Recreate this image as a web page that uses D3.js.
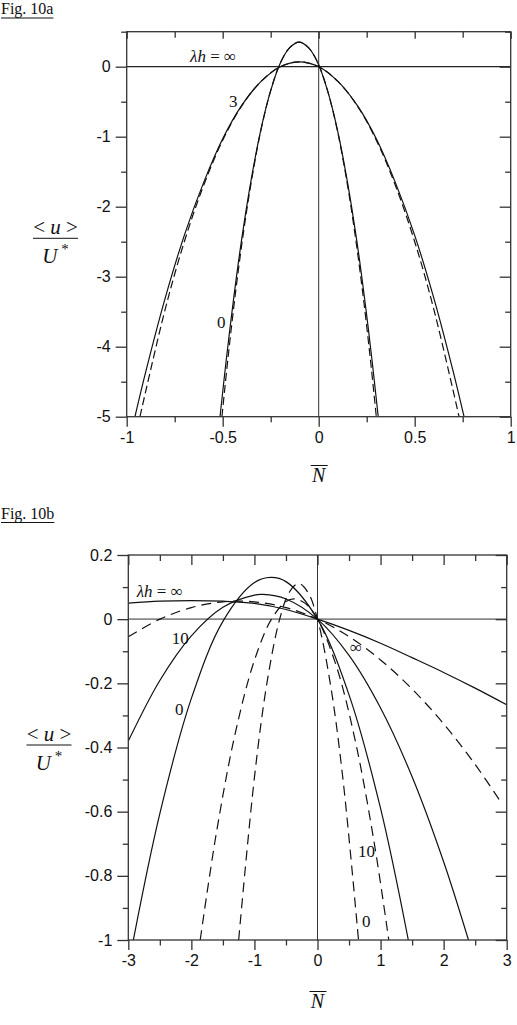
<!DOCTYPE html>
<html>
<head>
<meta charset="utf-8">
<script src="https://cdn.jsdelivr.net/npm/d3@7"></script>
<style>
  body { margin: 0; background: #fff; }
  svg { display: block; }
  .tick text { font-family: "Liberation Sans", Arial, sans-serif; font-size: 16px; fill: #111; }
</style>
</head>
<body>
<svg id="chart" width="517" height="1025"></svg>
<script>
var SERIF = "'Liberation Serif', 'Times New Roman', serif";

// ---- Fig. 10a data: [N, <u>/U*] ----
var a_xMajor = [-1, -0.5, 0, 0.5, 1];
var a_xMinor = [-0.75, -0.25, 0.25, 0.75];
var a_yMajor = [0, -1, -2, -3, -4, -5];
var a_yMinor = [0.5, -0.5, -1.5, -2.5, -3.5, -4.5];

var a_narrowSolid = [[-0.514,-5.0],[-0.482,-4.20],[-0.442,-3.29],[-0.402,-2.48],[-0.352,-1.62],[-0.302,-0.91],
  [-0.252,-0.36],[-0.202,0.04],[-0.152,0.27],[-0.102,0.352],[-0.052,0.27],[-0.002,0.04],[0.048,-0.36],
  [0.098,-0.91],[0.148,-1.62],[0.198,-2.48],[0.238,-3.29],[0.278,-4.20],[0.310,-5.0]];
var a_narrowDash = [[-0.504,-5.0],[-0.472,-4.15],[-0.432,-3.20],[-0.392,-2.37],[-0.352,-1.66],[-0.302,-0.92],
  [-0.252,-0.36],[-0.202,0.04],[-0.152,0.27],[-0.102,0.352],[-0.052,0.27],[-0.002,0.04],[0.048,-0.36],
  [0.098,-0.92],[0.148,-1.66],[0.188,-2.37],[0.228,-3.20],[0.268,-4.15],[0.300,-5.0]];
var a_wideSolid = [[-0.957,-5.0],[-0.9,-4.35],[-0.8,-3.31],[-0.7,-2.41],[-0.6,-1.66],[-0.5,-1.03],[-0.4,-0.55],
  [-0.3,-0.21],[-0.2,0.0],[-0.1,0.07],[0,0.0],[0.1,-0.21],[0.2,-0.55],[0.3,-1.03],[0.4,-1.66],[0.5,-2.41],
  [0.6,-3.31],[0.7,-4.35],[0.757,-5.0]];
var a_wideDash = [[-0.931,-5.0],[-0.8,-3.47],[-0.7,-2.50],[-0.6,-1.70],[-0.5,-1.05],[-0.4,-0.556],[-0.3,-0.21],
  [-0.2,0.0],[-0.1,0.07],[0,0.0],[0.1,-0.21],[0.2,-0.556],[0.3,-1.05],[0.4,-1.70],[0.5,-2.50],[0.6,-3.47],
  [0.731,-5.0]];

// ---- Fig. 10b data ----
var b_xMajor = [-3, -2, -1, 0, 1, 2, 3];
var b_xMinor = [-2.5, -1.5, -0.5, 0.5, 1.5, 2.5];
var b_yMajor = [0.2, 0, -0.2, -0.4, -0.6, -0.8, -1];
var b_yMinor = [0.1, -0.1, -0.3, -0.5, -0.7, -0.9];

var b_infSolid = [[-3,0.050],[-2.5,0.056],[-2,0.058],[-1.5,0.056],[-1,0.049],[-0.5,0.030],[0,0],
  [0.5,-0.035],[1,-0.075],[1.5,-0.120],[2,-0.166],[2.5,-0.215],[3,-0.267]];
var b_infDash = [[-3,-0.055],[-2.5,0.0],[-2,0.036],[-1.5,0.054],[-1,0.054],[-0.5,0.036],[0,0],
  [0.5,-0.054],[1,-0.127],[1.5,-0.218],[2,-0.326],[2.5,-0.453],[2.92,-0.574]];
var b_tenSolid = [[-3,-0.380],[-2.5,-0.191],[-2,-0.052],[-1.5,0.037],[-1,0.075],[-0.87,0.077],[-0.5,0.063],
  [0,0],[0.5,-0.113],[1,-0.277],[1.5,-0.491],[2,-0.756],[2.394,-1.0]];
var b_zeroSolid = [[-2.92,-1.0],[-2.5,-0.606],[-2,-0.247],[-1.5,-0.007],[-1,0.114],[-0.74,0.130],[-0.5,0.117],
  [0,0],[0.5,-0.236],[1,-0.590],[1.44,-1.0]];
var b_tenDash = [[-1.86,-1.0],[-1.6,-0.662],[-1.3,-0.352],[-1,-0.128],[-0.73,0.0],[-0.5,0.055],[-0.365,0.063],
  [-0.2,0.050],[0,0],[0.3,-0.147],[0.6,-0.380],[0.9,-0.698],[1.13,-1.0]];
var b_zeroDash = [[-1.25,-1.0],[-1,-0.493],[-0.8,-0.197],[-0.6,0.0],[-0.45,0.083],[-0.3,0.111],[-0.15,0.083],
  [0,0],[0.2,-0.197],[0.4,-0.492],[0.65,-1.0]];

var svg = d3.select("#chart");

function drawPanel(p) {
  var x = d3.scaleLinear().domain(p.xDomain).range([p.left, p.right]);
  var y = d3.scaleLinear().domain(p.yDomain).range([p.bottom, p.top]);
  var g = svg.append("g");

  g.append("clipPath").attr("id", p.id + "clip")
    .append("rect").attr("x", p.left).attr("y", p.top)
    .attr("width", p.right - p.left).attr("height", p.bottom - p.top);

  // zero lines
  g.append("line").attr("x1", p.left).attr("x2", p.right).attr("y1", y(0)).attr("y2", y(0))
    .attr("stroke", p.zeroColor).attr("stroke-width", p.zeroWidth);
  g.append("line").attr("x1", x(0)).attr("x2", x(0)).attr("y1", p.top).attr("y2", p.bottom)
    .attr("stroke", "#333").attr("stroke-width", 1);

  var line = d3.line().x(d => x(d[0])).y(d => y(d[1])).curve(d3.curveCatmullRom.alpha(0.5));
  var cg = g.append("g").attr("clip-path", "url(#" + p.id + "clip)");
  p.curves.forEach(function (c) {
    cg.append("path").attr("d", line(c.data))
      .attr("fill", "none").attr("stroke", "#111").attr("stroke-width", 1.2)
      .attr("stroke-dasharray", c.dash ? p.dash : null);
  });

  function ax(gen, tx, ty, vals, size, labels) {
    var sc = (gen === d3.axisBottom) ? x : y;
    var a = g.append("g").attr("transform", "translate(" + tx + "," + ty + ")")
      .call(gen(sc).tickValues(vals).tickSize(size).tickSizeOuter(0).tickPadding(labels ? p.pad : 0)
        .tickFormat(labels ? (d => String(d)) : ""));
    a.select(".domain").remove();
    a.selectAll(".tick line").attr("stroke", "#333").attr("stroke-width", 1.3);
    return a;
  }
  // bottom & left: outward ticks with labels
  ax(d3.axisBottom, 0, p.bottom, p.xMajor, 10, true);
  ax(d3.axisBottom, 0, p.bottom, p.xMinor, 5.5, false);
  ax(d3.axisLeft, p.left, 0, p.yMajor, 11, true);
  ax(d3.axisLeft, p.left, 0, p.yMinor, 5.5, false);
  // top & right: inward ticks
  ax(d3.axisBottom, 0, p.top, p.xMajor, p.topMajor, false);
  ax(d3.axisBottom, 0, p.top, p.xMinor, 6, false);
  ax(d3.axisLeft, p.right, 0, p.yMajor, 11, false);
  ax(d3.axisLeft, p.right, 0, p.yMinor, 5.5, false);

  g.append("rect").attr("x", p.left).attr("y", p.top)
    .attr("width", p.right - p.left).attr("height", p.bottom - p.top)
    .attr("fill", "none").attr("stroke", "#333").attr("stroke-width", 1.3);

  // curve labels
  p.labels.forEach(function (l) {
    var t = g.append("text").attr("font-family", SERIF).attr("fill", "#111")
      .attr("x", x(l.at[0])).attr("y", y(l.at[1])).attr("font-size", 17);
    if (l.lam) {
      t.append("tspan").attr("font-style", "italic").text("λh");
      t.append("tspan").text(" = ∞");
    } else {
      t.text(l.text);
    }
  });

  // figure title (underlined)
  var ft = svg.append("text").attr("font-family", SERIF).attr("fill", "#111")
    .attr("x", p.titleX).attr("y", p.titleY).attr("font-size", 16).text(p.title);
  var bb = ft.node().getBBox();
  svg.append("line").attr("x1", bb.x).attr("x2", bb.x + bb.width)
    .attr("y1", p.titleY + 4).attr("y2", p.titleY + 4).attr("stroke", "#111").attr("stroke-width", 1);

  // y label: <u> / U*
  var t1 = svg.append("text").attr("font-family", SERIF).attr("fill", "#111")
    .attr("x", p.ylabX).attr("y", p.ylabY - 4).attr("text-anchor", "middle").attr("font-size", 21);
  t1.append("tspan").text("< ");
  t1.append("tspan").attr("font-style", "italic").text("u");
  t1.append("tspan").text(" >");
  svg.append("line").attr("x1", p.ylabX - 22.5).attr("x2", p.ylabX + 22.5)
    .attr("y1", p.ylabY).attr("y2", p.ylabY).attr("stroke", "#111").attr("stroke-width", 1);
  var t2 = svg.append("text").attr("font-family", SERIF).attr("fill", "#111")
    .attr("x", p.ylabX).attr("y", p.ylabY + 25).attr("text-anchor", "middle").attr("font-size", 21);
  t2.append("tspan").attr("font-style", "italic").text("U");
  t2.append("tspan").attr("font-size", 15).attr("dy", -9).text(" *");

  // x label: N with overline
  var cx = x(0);
  svg.append("text").attr("font-family", SERIF).attr("fill", "#111").attr("x", cx).attr("y", p.xlabY)
    .attr("text-anchor", "middle").attr("font-size", 20).attr("font-style", "italic").text("N");
  svg.append("line").attr("x1", cx - 8).attr("x2", cx + 9)
    .attr("y1", p.xlabY - 16.5).attr("y2", p.xlabY - 16.5).attr("stroke", "#111").attr("stroke-width", 1);
}

drawPanel({
  id: "a", xDomain: [-1, 1], yDomain: [-5, 0.5],
  left: 126.7, right: 510.7, top: 31.7, bottom: 416.7,
  xMajor: a_xMajor, xMinor: a_xMinor, yMajor: a_yMajor, yMinor: a_yMinor,
  pad: 5, topMajor: 7, dash: "8,4", zeroColor: "#222", zeroWidth: 1.2,
  curves: [{ data: a_wideSolid }, { data: a_wideDash, dash: true },
           { data: a_narrowSolid }, { data: a_narrowDash, dash: true }],
  labels: [{ lam: true, at: [-0.67, 0.067] }, { text: "3", at: [-0.467, -0.576] },
           { text: "0", at: [-0.53, -3.73] }],
  title: "Fig. 10a", titleX: 1, titleY: 14,
  ylabX: 55.5, ylabY: 238.3, xlabY: 482
});

drawPanel({
  id: "b", xDomain: [-3, 3], yDomain: [-1, 0.2],
  left: 128.3, right: 506.7, top: 555, bottom: 940,
  xMajor: b_xMajor, xMinor: b_xMinor, yMajor: b_yMajor, yMinor: b_yMinor,
  pad: 5, topMajor: 10, dash: "10,6", zeroColor: "#888", zeroWidth: 1.6,
  curves: [{ data: b_infSolid }, { data: b_infDash, dash: true },
           { data: b_tenSolid }, { data: b_zeroSolid },
           { data: b_tenDash, dash: true }, { data: b_zeroDash, dash: true }],
  labels: [{ lam: true, at: [-2.867, 0.069] }, { text: "10", at: [-2.31, -0.077] },
           { text: "0", at: [-2.26, -0.299] }, { text: "∞", at: [0.515, -0.105] },
           { text: "10", at: [0.642, -0.741] }, { text: "0", at: [0.706, -0.960] }],
  title: "Fig. 10b", titleX: 1, titleY: 518.5,
  ylabX: 49, ylabY: 745, xlabY: 1008
});
</script>
</body>
</html>
